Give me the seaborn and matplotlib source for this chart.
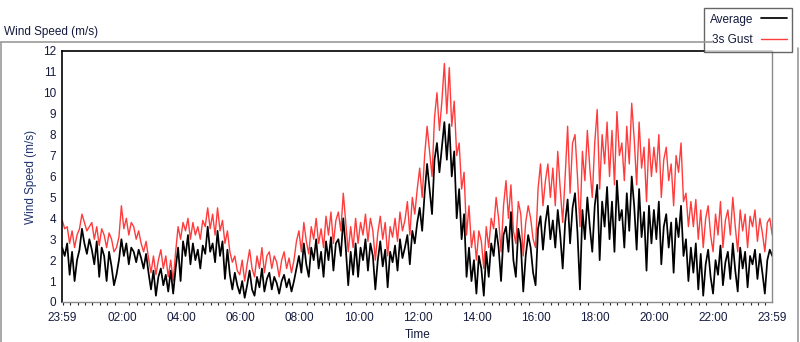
import pandas as pd
import numpy as np
import seaborn as sns
import matplotlib.pyplot as plt
import matplotlib.dates as mdates
from matplotlib.lines import Line2D

# 5-minute readings from 23:59 to 23:59, one row per hour
avg_speed = [
    2.6, 2.2, 2.8, 1.3, 2.4, 1.0, 2.0, 2.5, 3.5, 2.8, 2.3, 3.0,
    2.5, 1.8, 2.9, 1.2, 2.6, 2.2, 1.0, 2.4, 1.7, 0.8, 1.3, 2.0,
    3.0, 2.2, 2.8, 1.8, 2.6, 2.4, 1.9, 2.5, 2.1, 1.6, 2.3, 1.4,
    0.6, 1.5, 0.3, 1.2, 1.6, 0.8, 1.3, 0.5, 1.5, 0.4, 1.6, 2.6,
    1.0, 2.9, 2.2, 3.2, 1.8, 2.8, 2.0, 2.5, 1.6, 2.7, 2.3, 3.6,
    2.4, 2.8, 1.9, 3.4, 2.2, 2.9, 1.1, 2.5, 1.3, 0.6, 1.4, 0.8,
    0.4, 1.0, 0.2, 0.8, 1.5, 0.6, 0.3, 1.2, 0.7, 1.6, 0.5, 1.1,
    1.4, 0.6, 1.2, 0.9, 0.4, 1.0, 1.3, 0.7, 1.1, 0.5, 1.0, 1.6,
    2.2, 1.4, 2.8, 1.8, 1.2, 2.6, 2.0, 3.0, 1.6, 2.4, 1.2, 2.9,
    2.0, 3.1, 1.5, 2.8, 3.0, 2.2, 4.0, 2.6, 0.8, 2.4, 1.3, 2.8,
    1.2, 2.6, 2.0, 3.0, 1.5, 2.8, 2.2, 0.6, 2.0, 2.9, 1.7, 2.5,
    0.7, 2.4, 1.9, 2.7, 1.5, 3.0, 2.1, 2.6, 3.2, 1.8, 3.4, 2.8,
    3.8, 4.5, 3.4, 5.2, 6.6, 5.4, 4.2, 6.8, 7.6, 6.2, 7.4, 8.6,
    6.8, 8.5, 6.0, 7.2, 4.0, 5.4, 3.0, 4.2, 1.2, 2.6, 1.0, 2.0,
    0.4, 2.2, 1.6, 0.3, 2.4, 1.2, 2.8, 2.2, 3.5, 2.6, 1.0, 3.2,
    3.6, 2.4, 4.3, 2.0, 1.2, 3.5, 2.8, 0.5, 2.2, 3.2, 2.6, 1.4,
    0.8, 3.5, 4.1, 2.5, 3.8, 4.6, 3.0, 3.9, 2.6, 4.4, 3.2, 1.6,
    3.8, 4.9, 2.8, 4.5, 5.2, 3.3, 0.6, 4.4, 3.0, 5.0, 3.6, 2.4,
    4.6, 5.6, 2.0, 4.8, 3.6, 5.5, 3.0, 4.8, 2.4, 5.8, 3.9, 4.4,
    2.6, 5.2, 3.4, 6.0, 4.6, 2.5, 5.4, 3.1, 4.3, 1.5, 4.6, 2.8,
    4.4, 3.0, 4.8, 1.8, 3.6, 4.2, 2.6, 3.8, 1.4, 4.0, 3.1, 4.6,
    2.2, 3.0, 1.0, 2.6, 1.4, 2.8, 0.6, 2.3, 0.3, 1.8, 2.5, 1.2,
    0.4, 2.0, 1.3, 2.7, 0.8, 1.9, 2.4, 1.1, 2.8, 1.5, 0.5, 2.6,
    1.6, 2.4, 0.7, 2.2, 1.8, 2.5, 1.1, 2.3, 1.4, 0.4, 2.0, 2.5,
    2.2,
]
gust_speed = [
    3.9, 3.5, 3.6, 2.8, 3.4, 2.6, 3.2, 3.5, 4.2, 3.8, 3.4, 3.6,
    3.8, 3.0, 3.6, 2.7, 3.5, 3.2, 2.6, 3.3, 3.0, 2.4, 2.6, 3.1,
    4.6, 3.5, 4.0, 3.2, 3.8, 3.6, 3.0, 3.4, 2.8, 2.4, 2.9, 2.1,
    1.4, 2.2, 1.3, 2.0, 2.5, 1.6, 2.2, 1.2, 2.0, 1.0, 2.4, 3.6,
    3.0, 3.8, 3.4, 4.0, 3.0, 3.8, 3.2, 3.6, 3.0, 3.9, 3.6, 4.5,
    3.5, 4.2, 3.2, 4.5, 3.4, 3.9, 2.8, 3.4, 2.4, 1.9, 2.2, 1.5,
    1.3, 2.0, 1.0, 1.8, 2.5, 1.6, 1.2, 2.2, 1.6, 2.6, 1.4, 2.2,
    2.4, 1.6, 2.2, 1.9, 1.2, 2.0, 2.4, 1.6, 2.1, 1.4, 2.0, 2.9,
    3.4, 2.4, 3.8, 2.9, 2.3, 3.6, 3.0, 4.0, 2.8, 3.5, 2.6, 4.1,
    3.2, 4.3, 2.8, 3.9, 4.3, 3.4, 5.2, 3.8, 2.4, 3.6, 2.6, 4.0,
    2.8, 3.8, 3.2, 4.2, 2.9, 4.0, 3.4, 2.0, 3.3, 4.1, 3.0, 3.8,
    2.2, 3.6, 3.1, 4.0, 2.9, 4.3, 3.4, 3.9, 4.8, 3.2, 5.0, 4.2,
    5.4, 6.4, 5.0, 7.0, 8.4, 7.2, 6.0, 8.8, 10.0, 8.2, 9.6, 11.4,
    9.0, 11.2, 8.4, 9.6, 7.0, 7.6, 5.4, 6.2, 3.2, 4.6, 2.6, 3.4,
    2.0, 3.4, 2.9, 1.6, 3.6, 2.6, 4.0, 3.5, 5.0, 4.0, 2.4, 4.6,
    5.8, 4.0, 5.6, 3.4, 2.8, 4.8, 4.2, 2.2, 3.8, 4.6, 4.0, 3.0,
    2.6, 5.4, 6.6, 4.6, 5.8, 6.6, 5.0, 6.4, 4.6, 7.2, 5.4, 3.8,
    6.0, 8.4, 5.2, 7.6, 8.0, 6.0, 3.6, 7.2, 5.8, 8.2, 6.4, 5.0,
    7.6, 9.2, 5.4, 8.0, 6.6, 8.6, 6.0, 8.2, 5.6, 9.1, 7.0, 7.6,
    5.8, 8.4, 6.6, 9.5, 7.8, 5.6, 8.6, 6.4, 7.4, 4.8, 7.8, 6.0,
    7.4, 6.2, 8.0, 5.0, 6.8, 7.4, 5.8, 6.6, 4.6, 7.0, 6.2, 7.6,
    4.8, 5.2, 3.6, 4.8, 3.6, 4.9, 3.0, 4.4, 2.6, 4.0, 4.6, 3.2,
    2.4, 4.2, 3.2, 4.8, 2.6, 3.9, 4.4, 3.2, 5.0, 3.6, 2.4, 4.4,
    3.4, 4.2, 2.6, 4.1, 3.6, 4.4, 2.9, 4.0, 3.3, 2.4, 3.8, 4.0,
    3.2,
]
start_time = "2024-01-01 23:59"
end_time = "2024-01-02 23:59"
hour_ticks = ["02:00", "04:00", "06:00", "08:00", "10:00", "12:00",
              "14:00", "16:00", "18:00", "20:00", "22:00"]

times = pd.date_range(start_time, end_time, periods=len(avg_speed))
df = pd.DataFrame({"Time": times, "Average": avg_speed, "3s Gust": gust_speed})

sns.set_style("white")
plt.rcParams["font.family"] = ["Liberation Sans", "DejaVu Sans"]
txt = "#141a3c"

fig = plt.figure(figsize=(8, 3.42), dpi=100)
ax = fig.add_axes([0.0778, 0.117, 0.8875, 0.734])

sns.lineplot(data=df, x="Time", y="3s Gust", color="#ff3b3b", lw=1.0, ax=ax, label="3s Gust")
sns.lineplot(data=df, x="Time", y="Average", color="black", lw=1.25, ax=ax, label="Average")

ax.set_xlim(times[0], times[-1])
ax.set_ylim(0, 12)
ax.set_yticks(range(0, 13))

tick_pos = [times[0]] + [pd.Timestamp("2024-01-02 " + t) for t in hour_ticks] + [times[-1]]
ax.set_xticks(tick_pos)
ax.set_xticklabels(["23:59"] + hour_ticks + ["23:59"])
ax.xaxis.set_minor_locator(mdates.MinuteLocator(byminute=[0, 15, 30, 45]))

ax.tick_params(axis="both", which="major", labelsize=8.5, colors="black", labelcolor=txt, direction="out")
ax.tick_params(axis="y", length=3.5, width=0.8, pad=1)
ax.tick_params(axis="x", which="major", length=4, width=1.6, pad=3)
ax.tick_params(axis="x", which="minor", length=2.5, width=0.8, bottom=True)

ax.set_xlabel("Time", fontsize=8.5, color=txt, labelpad=4)
ax.set_ylabel("Wind Speed (m/s)", fontsize=8.5, color="#1f3370", labelpad=4)

for s in ["top", "left"]:
    ax.spines[s].set_color("black")
    ax.spines[s].set_linewidth(1.2)
for s in ["right", "bottom"]:
    ax.spines[s].set_color("#8a8a8a")
    ax.spines[s].set_linewidth(1.0)

handles, labels = ax.get_legend_handles_labels()
ax.legend([handles[1], handles[0]], [labels[1], labels[0]],
          loc="upper right", bbox_to_anchor=(0.998, 0.993), bbox_transform=fig.transFigure,
          markerfirst=False, fontsize=8.5, frameon=True, edgecolor="#404040", fancybox=False,
          handlelength=2.2, borderpad=0.45, labelspacing=0.75, handletextpad=0.7,
          labelcolor=txt)

# outer panel frame
fig.add_artist(Line2D([0.001, 0.89], [1 - 42 / 342, 1 - 42 / 342], color="#9a9a9a", lw=1.2))
fig.add_artist(Line2D([0.0015, 0.0015], [0, 1 - 42 / 342], color="#9a9a9a", lw=1.2))
fig.add_artist(Line2D([0.997, 0.997], [0, 1 - 48 / 342], color="#9a9a9a", lw=1.2))
fig.text(0.005, 1 - 32 / 342, "Wind Speed (m/s)", fontsize=8.5, color=txt, va="center", ha="left")

fig.savefig("out.png", dpi=100)
